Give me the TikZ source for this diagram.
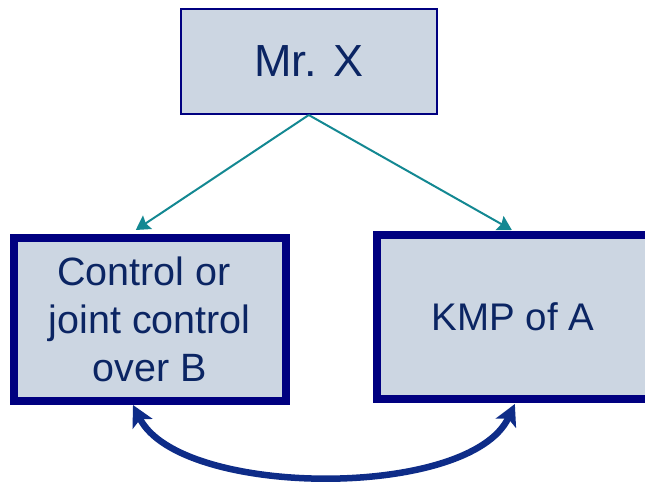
\documentclass[tikz,border=0pt]{standalone}
\usepackage{fontspec}
\setmainfont{Liberation Sans}
\usetikzlibrary{arrows.meta}
\definecolor{boxfill}{HTML}{CCD6E2}
\definecolor{boxline}{HTML}{000080}
\definecolor{txtblue}{HTML}{0B2563}
\definecolor{teal}{HTML}{138892}
\definecolor{curvenavy}{HTML}{0E2C88}
\tikzset{
  topbox/.style={draw=boxline, line width=2pt, fill=boxfill, rectangle,
    text=txtblue, font=\fontsize{45}{54}\selectfont, inner sep=0pt},
  heavybox/.style={draw=boxline, line width=8pt, fill=boxfill, rectangle,
    text=txtblue, font=\fontsize{39.5}{48}\selectfont, inner sep=0pt, align=center},
  tealarrow/.style={draw=teal, line width=2pt,
    -{Stealth[length=14pt,width=16pt,inset=2pt]}},
  navyarrow/.style={draw=curvenavy, line width=6.5pt,
    {Stealth[length=21pt,width=22pt,inset=5pt]}-{Stealth[length=21pt,width=22pt,inset=5pt]}}
}
\begin{document}
\begin{tikzpicture}[x=1pt, y=-1pt]
\useasboundingbox (0,0) rectangle (645,485);

\node[topbox, minimum width=256.5pt, minimum height=105.5pt] (mrx) at (308.75,61.25) {Mr. X};
\node[heavybox, minimum width=272.5pt, minimum height=163.5pt] (ctrl) at (149.75,319.25)
  {Control or\kern0.3em\\joint control\\over B};
\node[heavybox, font=\fontsize{38.5}{48}\selectfont, minimum width=272.3pt, minimum height=164pt]
  (kmp) at (512.85,317) {KMP of A};

\draw[tealarrow] (mrx.south) -- ([xshift=-14pt,yshift=3.5pt]ctrl.north);
\draw[tealarrow] (mrx.south) -- ([xshift=-1pt,yshift=1pt]kmp.north);

\draw[navyarrow] ([xshift=-16.75pt]ctrl.south) .. controls (180,498) and (470,500) .. ([xshift=2pt,yshift=-1pt]kmp.south);
\end{tikzpicture}
\end{document}
